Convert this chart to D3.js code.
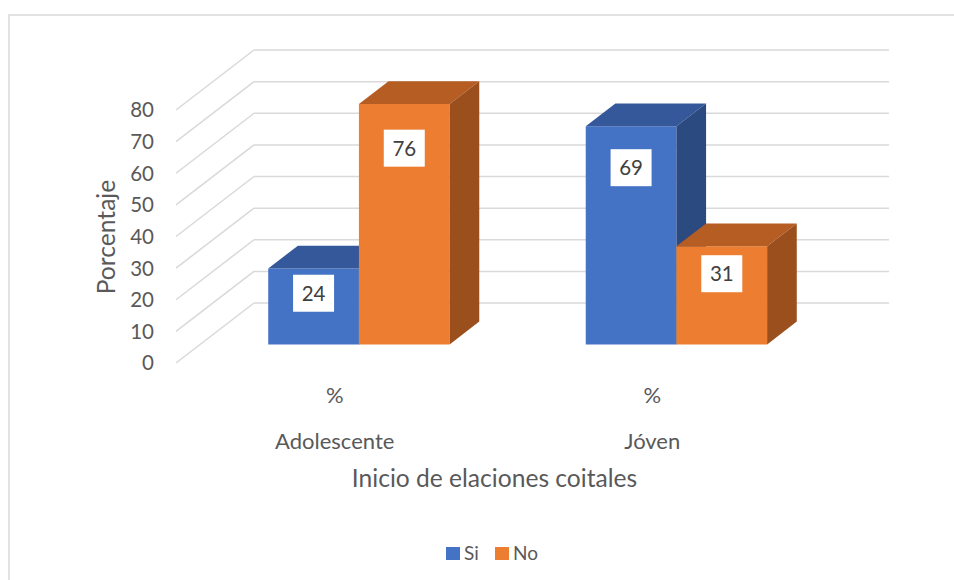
<!DOCTYPE html>
<html>
<head>
<meta charset="utf-8">
<script src="https://cdn.jsdelivr.net/npm/d3@7/dist/d3.min.js"></script>
<style>
  html, body { margin: 0; padding: 0; background: #fff; }
  svg { display: block; }
  text { font-family: Lato, "Open Sans", sans-serif; }
</style>
</head>
<body>
<svg id="chart" width="954" height="580"></svg>
<script>
// ---- data ----
const categories = ["Adolescente", "Jóven"];
const categorySubLabels = ["%", "%"];
const seriesNames = ["Si", "No"];
const siValues = [24, 69];
const noValues = [76, 31];
const yTicks = [0, 10, 20, 30, 40, 50, 60, 70, 80];
const yTitle = "Porcentaje";
const xTitle = "Inicio de elaciones coitales";

// ---- styling ----
const faceColors = {
  Si: { front: "#4472C4", top: "#345899", side: "#2B4A7F" },
  No: { front: "#ED7D31", top: "#B55D22", side: "#9A4F1D" }
};

const svg = d3.select("#chart");

// chart frame
svg.append("rect")
  .attr("x", 9).attr("y", 15).attr("width", 1000).attr("height", 700)
  .attr("fill", "none").attr("stroke", "#d9d9d9").attr("stroke-width", 1.5);

// 3D projection parameters
const frontX0 = 176, floorW = 635;
const depthDX = 78, depthDY = -60;
const y = d3.scaleLinear().domain([0, 80]).range([363, 110]);
const depth = t => ({ dx: depthDX * t, dy: depthDY * t });

const x0 = d3.scaleBand().domain(categories).range([0, floorW])
  .paddingInner(0.4287).paddingOuter(0.2143);
const x1 = d3.scaleBand().domain(seriesNames).range([0, x0.bandwidth()]).padding(0);

const data = categories.map((c, i) => ({
  category: c,
  values: [{ key: "Si", value: siValues[i] }, { key: "No", value: noValues[i] }]
}));

// gridlines: side wall diagonals + back wall horizontals
const grid = svg.append("g").attr("stroke", "#d9d9d9").attr("stroke-width", 1.5).attr("fill", "none");
const back = depth(1);
yTicks.forEach(t => {
  grid.append("line")
    .attr("x1", frontX0).attr("y1", y(t))
    .attr("x2", frontX0 + back.dx).attr("y2", y(t) + back.dy);
  grid.append("line")
    .attr("x1", frontX0 + back.dx).attr("y1", y(t) + back.dy)
    .attr("x2", frontX0 + back.dx + floorW).attr("y2", y(t) + back.dy);
});

// y tick labels
svg.append("g").selectAll("text").data(yTicks).join("text")
  .attr("x", frontX0 - 22).attr("y", d => y(d))
  .attr("dy", "0.36em").attr("text-anchor", "end")
  .attr("fill", "#595959").attr("font-size", 20.5)
  .text(d => d);

// bars
const fD = depth(0.31), bD = depth(0.69);
const pts = a => a.map(p => p.join(",")).join(" ");
const bars = svg.append("g");
data.forEach(g => {
  g.values.forEach(d => {
    const xl = frontX0 + x0(g.category) + x1(d.key) + fD.dx;
    const xr = xl + x1.bandwidth();
    const yb = y(0) + fD.dy;
    const yt = y(d.value) + fD.dy;
    const ox = bD.dx - fD.dx, oy = bD.dy - fD.dy;
    const c = faceColors[d.key];
    bars.append("polygon").attr("fill", c.front)
      .attr("points", pts([[xl, yt], [xr, yt], [xr, yb], [xl, yb]]));
    bars.append("polygon").attr("fill", c.top)
      .attr("points", pts([[xl, yt], [xl + ox, yt + oy], [xr + ox, yt + oy], [xr, yt]]));
    bars.append("polygon").attr("fill", c.side)
      .attr("points", pts([[xr, yt], [xr + ox, yt + oy], [xr + ox, yb + oy], [xr, yb]]));
  });
});

// data labels
const labelY = d3.scaleLinear().domain([0, 80]).range([360.2, 137]);
const labels = svg.append("g");
data.forEach(g => {
  g.values.forEach(d => {
    const cx = frontX0 + x0(g.category) + x1(d.key) + fD.dx + x1.bandwidth() / 2;
    const cy = labelY(d.value);
    labels.append("rect").attr("x", cx - 20.5).attr("y", cy - 18.5)
      .attr("width", 41).attr("height", 37).attr("fill", "#fff");
    labels.append("text").attr("x", cx).attr("y", cy).attr("dy", "0.36em")
      .attr("text-anchor", "middle").attr("fill", "#404040").attr("font-size", 20.5)
      .text(d.value);
  });
});

// category labels
const catG = svg.append("g").attr("fill", "#595959").attr("text-anchor", "middle");
categories.forEach((c, i) => {
  const cx = frontX0 + x0(c) + x0.bandwidth() / 2;
  catG.append("text").attr("x", cx).attr("y", 395).attr("dy", "0.36em")
    .attr("font-size", 22).text(categorySubLabels[i]);
  catG.append("text").attr("x", cx).attr("y", 441).attr("dy", "0.36em")
    .attr("font-size", 22).text(c);
});

// axis titles
svg.append("text").attr("x", frontX0 + floorW / 2 + 1).attr("y", 478).attr("dy", "0.36em")
  .attr("text-anchor", "middle").attr("fill", "#595959").attr("font-size", 24.6).text(xTitle);
svg.append("text").attr("transform", "translate(106,237) rotate(-90)").attr("dy", "0.36em")
  .attr("text-anchor", "middle").attr("fill", "#595959").attr("font-size", 24.6).text(yTitle);

// legend
const legend = svg.append("g");
const legX = [446, 495];
seriesNames.forEach((s, i) => {
  legend.append("rect").attr("x", legX[i]).attr("y", 547).attr("width", 14).attr("height", 13)
    .attr("fill", faceColors[s].front);
  legend.append("text").attr("x", legX[i] + 18).attr("y", 553.5).attr("dy", "0.36em")
    .attr("fill", "#595959").attr("font-size", 19).text(s);
});
</script>
</body>
</html>
